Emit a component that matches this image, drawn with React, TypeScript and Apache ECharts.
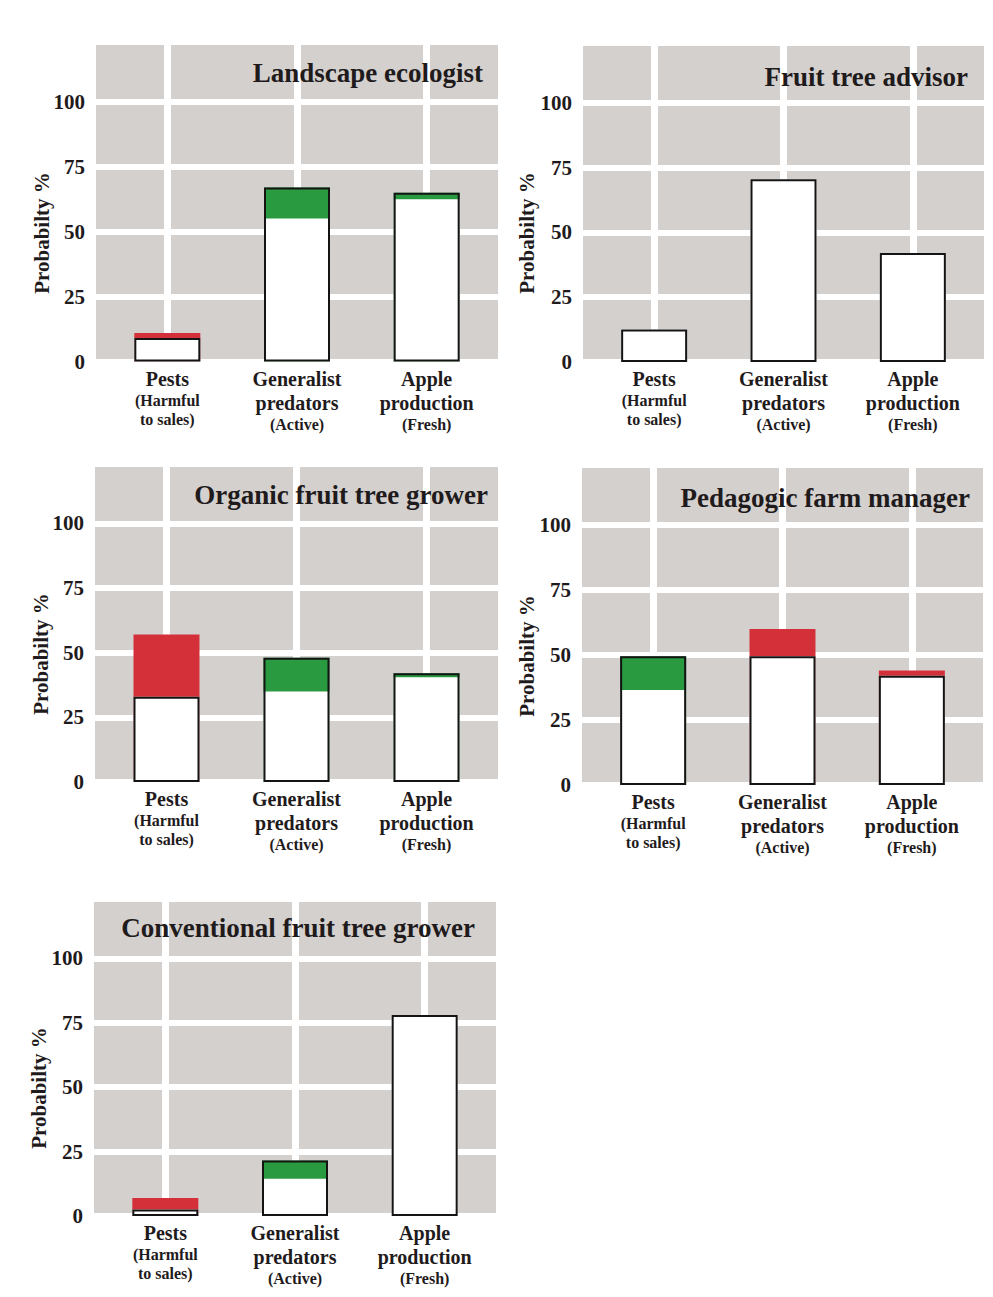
import React, { useEffect, useRef } from "react";
import * as echarts from "echarts";

// ---- data ----
const categoryMain = [["Pests"], ["Generalist", "predators"], ["Apple", "production"]];
const categorySub = [["(Harmful", "to sales)"], ["(Active)"], ["(Fresh)"]];
const yTicks = [0, 25, 50, 75, 100];
const yAxisTitle = "Probabilty %";

const panelTitles = [
  "Landscape ecologist",
  "Fruit tree advisor",
  "Organic fruit tree grower",
  "Pedagogic farm manager",
  "Conventional fruit tree grower",
];

// outlined (white) bar heights
const landscapeOutline = [9, 67, 65];
const advisorOutline = [12.5, 70.5, 42];
const organicOutline = [33, 48, 42];
const pedagogicOutline = [49.5, 49.5, 42];
const conventionalOutline = [2.5, 21.5, 78];

// coloured shift segments: from, to, colour
const landscapeShiftFrom = [9, 55, 62.5];
const landscapeShiftTo = [11, 67, 65];
const landscapeShiftColor = ["red", "green", "green"];

const advisorShiftFrom = [12.5, 70.5, 42];
const advisorShiftTo = [0, 0, 0];
const advisorShiftColor = [null, null, null];

const organicShiftFrom = [33, 35, 40.5];
const organicShiftTo = [57, 48, 42];
const organicShiftColor = ["red", "green", "green"];

const pedagogicShiftFrom = [36.5, 49.5, 42];
const pedagogicShiftTo = [49.5, 60, 44];
const pedagogicShiftColor = ["green", "red", "red"];

const conventionalShiftFrom = [2.5, 14.5, 78];
const conventionalShiftTo = [7, 21.5, 0];
const conventionalShiftColor = ["red", "green", null];

const outlines = [landscapeOutline, advisorOutline, organicOutline, pedagogicOutline, conventionalOutline];
const shiftFroms = [landscapeShiftFrom, advisorShiftFrom, organicShiftFrom, pedagogicShiftFrom, conventionalShiftFrom];
const shiftTos = [landscapeShiftTo, advisorShiftTo, organicShiftTo, pedagogicShiftTo, conventionalShiftTo];
const shiftColors = [landscapeShiftColor, advisorShiftColor, organicShiftColor, pedagogicShiftColor, conventionalShiftColor];

// ---- layout / style ----
const FONT = "Liberation Serif";
const TEXT = "#1f1b1c";
const GREY = "#d4d0ce";
const RED = "#d3303a";
const GREEN = "#2a9a40";
const Y_MAX = 123;

const layout = [
  { left: 96, width: 402, zero: 361.5, scale: 2.598, title: [483, 73], yname: [42, 233] },
  { left: 583, width: 401, zero: 362, scale: 2.593, title: [968, 77], yname: [527, 233] },
  { left: 95, width: 403, zero: 782, scale: 2.587, title: [488, 495], yname: [41, 654] },
  { left: 582, width: 401, zero: 785, scale: 2.6, title: [970, 498], yname: [527, 656] },
  { left: 94, width: 402, zero: 1216, scale: 2.577, title: [475, 928], yname: [39, 1088] },
];

function xLabel(v: number) {
  const i = Math.round(v);
  if (Math.abs(v - i) > 1e-6 || i < 0 || i > 2) return "";
  const main = categoryMain[i].map((s) => `{a|${s}}`);
  const sub = categorySub[i].map((s) => `{b|${s}}`);
  return [...main, ...sub].join("\n");
}

export default function App() {
  const ref = useRef<HTMLDivElement>(null);
  useEffect(() => {
    if (!ref.current) return;
    const chart = echarts.init(ref.current, null, { renderer: "svg" });
    const grids: any[] = [];
    const xAxes: any[] = [];
    const yAxes: any[] = [];
    const series: any[] = [];
    const graphics: any[] = [];

    layout.forEach((L, p) => {
      const height = Y_MAX * L.scale;
      grids.push({
        left: L.left,
        top: L.zero - height,
        width: L.width,
        height,
        show: true,
        backgroundColor: GREY,
        borderWidth: 0,
      });
      xAxes.push({
        type: "value",
        gridIndex: p,
        min: -0.55,
        max: 2.55,
        axisLine: { show: false },
        axisTick: { show: false, customValues: [0, 1, 2] },
        splitLine: { show: true, lineStyle: { color: "#ffffff", width: 7 } },
        axisLabel: {
          customValues: [0, 1, 2],
          margin: 5,
          formatter: xLabel,
          color: TEXT,
          fontFamily: FONT,
          rich: {
            a: { fontSize: 20, fontWeight: "bold", fontFamily: FONT, color: TEXT, lineHeight: 24 },
            b: { fontSize: 16, fontWeight: "bold", fontFamily: FONT, color: TEXT, lineHeight: 19 },
          },
        },
      });
      yAxes.push({
        type: "value",
        gridIndex: p,
        min: 0,
        max: Y_MAX,
        interval: 25,
        axisLine: { show: false },
        axisTick: { show: false },
        splitLine: { show: true, lineStyle: { color: "#ffffff", width: 6 } },
        axisLabel: {
          margin: 11,
          fontSize: 21,
          fontWeight: "bold",
          fontFamily: FONT,
          color: TEXT,
          formatter: (v: number) => (yTicks.includes(v) ? String(v) : ""),
        },
      });

      const outline = outlines[p];
      const from = shiftFroms[p];
      const to = shiftTos[p];
      const cols = shiftColors[p];

      // coloured shift, drawn from 0 up to its upper end, then covered by white below its lower end
      series.push({
        type: "bar",
        xAxisIndex: p,
        yAxisIndex: p,
        barWidth: 66,
        barGap: "-100%",
        z: 2,
        silent: true,
        data: to.map((v, k) => ({
          value: [k, v],
          itemStyle: { color: cols[k] === "red" ? RED : cols[k] === "green" ? GREEN : "rgba(0,0,0,0)" },
        })),
      });
      series.push({
        type: "bar",
        xAxisIndex: p,
        yAxisIndex: p,
        barWidth: 66,
        barGap: "-100%",
        z: 3,
        silent: true,
        itemStyle: { color: "#ffffff" },
        data: from.map((v, k) => [k, v]),
      });
      series.push({
        type: "bar",
        xAxisIndex: p,
        yAxisIndex: p,
        barWidth: 66,
        barGap: "-100%",
        z: 4,
        silent: true,
        itemStyle: { color: "rgba(0,0,0,0)", borderColor: "#141414", borderWidth: 2 },
        data: outline.map((v, k) => [k, v]),
      });

      graphics.push({
        type: "text",
        x: L.title[0],
        y: L.title[1],
        z: 10,
        style: {
          text: panelTitles[p],
          fontSize: 27,
          fontWeight: "bold",
          fontFamily: FONT,
          fill: TEXT,
          textAlign: "right",
          textVerticalAlign: "middle",
          align: "right",
          verticalAlign: "middle",
        },
      });
      graphics.push({
        type: "text",
        x: L.yname[0],
        y: L.yname[1],
        rotation: Math.PI / 2,
        z: 10,
        style: {
          text: yAxisTitle,
          fontSize: 21,
          fontWeight: "bold",
          fontFamily: FONT,
          fill: TEXT,
          textAlign: "center",
          textVerticalAlign: "middle",
          align: "center",
          verticalAlign: "middle",
        },
      });
    });

    chart.setOption({
      animation: false,
      backgroundColor: "#ffffff",
      grid: grids,
      xAxis: xAxes,
      yAxis: yAxes,
      series,
      graphic: graphics,
    });
    return () => chart.dispose();
  }, []);
  return (
    <div
      ref={ref}
      style={{ position: "absolute", left: 0, top: 0, width: 993, height: 1297 }}
    />
  );
}
